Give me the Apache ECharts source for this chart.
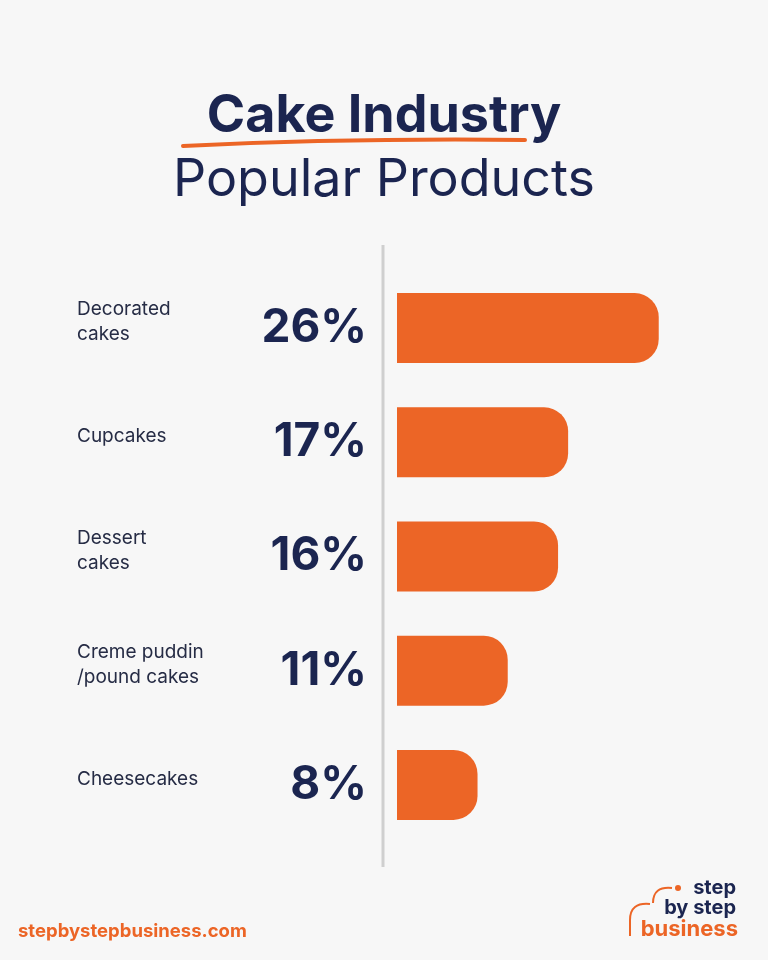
<!DOCTYPE html>
<html>
<head>
<meta charset="utf-8">
<script src="https://cdn.jsdelivr.net/npm/echarts@6/dist/echarts.min.js"></script>
<style>
html,body{margin:0;padding:0;background:#f7f7f7;}
#chart{width:768px;height:960px;}
</style>
</head>
<body>
<div id="chart"></div>
<script>
var categories = ['Decorated\ncakes', 'Cupcakes', 'Dessert\ncakes', 'Creme puddin\n/pound cakes', 'Cheesecakes'];
var values = [26, 17, 16, 11, 8];
var titleMain = 'Cake Industry';
var titleSub = 'Popular Products';
var footer = 'stepbystepbusiness.com';

var NAVY = '#1b2550';
var ORANGE = '#ec6526';
var FONT = 'Inter, "Noto Sans", sans-serif';

var chart = echarts.init(document.getElementById('chart'));
chart.setOption({
  backgroundColor: '#f7f7f7',
  animation: false,
  title: [
    { text: titleMain, left: 'center', top: 85,
      textStyle: { fontFamily: FONT, fontSize: 52, fontWeight: 'bold', color: NAVY } },
    { text: titleSub, left: 'center', top: 149,
      textStyle: { fontFamily: FONT, fontSize: 52, fontWeight: 'normal', color: NAVY } }
  ],
  grid: [
    { left: 397, right: 69, top: 271, bottom: 118, containLabel: false },
    { left: 397, right: 69, top: 265, bottom: 124, containLabel: false }
  ],
  xAxis: [
    { type: 'value', min: 0, max: 30, show: false, gridIndex: 0 },
    { type: 'value', min: 0, max: 30, show: false, gridIndex: 1 }
  ],
  yAxis: [
    {
      type: 'category', data: categories, inverse: true, gridIndex: 0,
      axisLine: { show: false }, axisTick: { show: false }, axisLabel: { show: false }
    },
    {
      type: 'category', data: categories, inverse: true, gridIndex: 1,
      axisLine: { show: false }, axisTick: { show: false },
      axisLabel: {
        align: 'left', margin: 320,
        fontFamily: FONT, fontSize: 19, lineHeight: 25, color: '#262c45'
      }
    }
  ],
  series: [{
    type: 'bar',
    xAxisIndex: 0, yAxisIndex: 0,
    data: values,
    barWidth: 70,
    itemStyle: { color: ORANGE, borderRadius: [0, 24, 24, 0] },
    label: {
      show: true, position: 'left', distance: 30,
      formatter: '{c}%',
      fontFamily: FONT, fontSize: 46, fontWeight: 'bold', color: NAVY
    }
  }],
  graphic: [
    { type: 'line', shape: { x1: 383, y1: 245, x2: 383, y2: 867 },
      style: { stroke: '#cfcfcf', lineWidth: 3 } },
    { type: 'bezierCurve', shape: { x1: 183, y1: 146, cpx1: 350, cpy1: 138, x2: 525, y2: 140 },
      style: { stroke: ORANGE, lineWidth: 4, fill: null, lineCap: 'round' } },
    { type: 'text', left: 18, top: 922,
      style: { text: footer, fontFamily: FONT, fontSize: 18.5, fontWeight: 'bold', fill: ORANGE } },
    { type: 'text', x: 736, y: 898,
      style: { text: 'step', fontFamily: FONT, fontSize: 20, fontWeight: 'bold', fill: NAVY,
        textAlign: 'right', textVerticalAlign: 'bottom' } },
    { type: 'text', x: 736, y: 918,
      style: { text: 'by step', fontFamily: FONT, fontSize: 20, fontWeight: 'bold', fill: NAVY,
        textAlign: 'right', textVerticalAlign: 'bottom' } },
    { type: 'text', x: 738, y: 940,
      style: { text: 'business', fontFamily: FONT, fontSize: 22, fontWeight: 'bold', fill: ORANGE,
        textAlign: 'right', textVerticalAlign: 'bottom' } },
    { type: 'circle', shape: { cx: 678, cy: 888, r: 3 }, style: { fill: ORANGE } },
    { type: 'bezierCurve', shape: { x1: 672, y1: 888, cpx1: 653, cpy1: 886, x2: 653, y2: 903 },
      style: { stroke: ORANGE, lineWidth: 2, fill: null } },
    { type: 'bezierCurve', shape: { x1: 650, y1: 904, cpx1: 630, cpy1: 902, x2: 630, y2: 920 },
      style: { stroke: ORANGE, lineWidth: 2, fill: null } },
    { type: 'line', shape: { x1: 630, y1: 920, x2: 630, y2: 936 },
      style: { stroke: ORANGE, lineWidth: 2 } }
  ]
});
</script>
</body>
</html>
